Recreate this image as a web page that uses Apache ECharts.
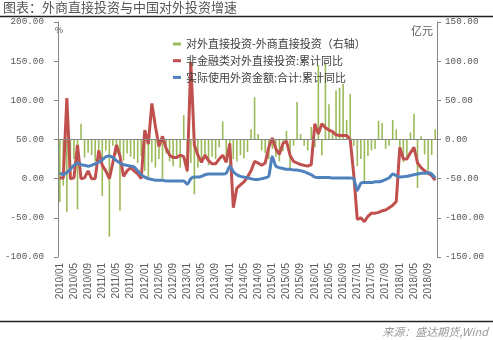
<!DOCTYPE html>
<html>
<head>
<meta charset="utf-8">
<script src="https://cdn.jsdelivr.net/npm/echarts@6/dist/echarts.min.js"></script>
<style>
html,body{margin:0;padding:0;background:#fff;}
#c{width:493px;height:340px;}
</style>
</head>
<body>
<div id="c"></div>
<script>
// ---- data ----
const startYear = 2010, monthCount = 107; // 2010/01 .. 2018/11
const categories = [];
for (let k = 0; k < monthCount; k++) {
  const y = startYear + Math.floor(k / 12), m = (k % 12) + 1;
  categories.push(y + '/' + (m < 10 ? '0' + m : m));
}
const seriesNames = ['对外直接投资-外商直接投资（右轴）', '非金融类对外直接投资:累计同比', '实际使用外资金额:合计:累计同比'];
// 对外直接投资-外商直接投资 (亿元, right axis)
const netInvest = [
  -80,-59,-93,-51,-25,-89,20,-23,-17,-20,
  -28,-22,-72,-14,-124,-8,-19,-91,-27,-18,
  -22,-25,-30,-21,-40,-52,-29,-36,-25,-50,
  -18,-28,-34,-22,-36,31,-42,-30,-70,-36,
  -27,-25,-33,-22,-25,-10,23,-22,-38,-25,
  -28,-20,-24,-16,13,54,7,-14,-17,-25,
  -12,-22,-28,-15,11,-40,-8,48,7,-8,
  -14,16,-10,95,-20,98,45,12,63,66,
  71,25,58,-8,-34,-25,-55,-21,-14,-12,
  24,21,-12,-8,25,13,-12,-29,-22,9,
  33,-62,4,-19,-40,-20,13
];
// 非金融类对外直接投资:累计同比 (%)
const odiYoY = [
  1,1,103,0,1,43,0,1,10,0,
  0,36,17,10,0,21,43,29,3,10,
  14,10,6,0,62,44,96,67,41,54,
  39,30,27,27,30,28,10,149,43,30,
  21,30,23,19,19,25,30,21,45,-37,
  -12,-8,-4,2,10,22,20,17,20,40,
  52,38,31,45,48,30,22,20,18,17,
  16,18,70,57,70,65,62,60,56,55,
  55,55,50,5,-52,-50,-55,-48,-44,-44,
  -43,-41,-40,-37,-34,-29,40,25,25,33,
  40,20,14,10,7,4,-2
];
// 实际使用外资金额:合计:累计同比 (%)
const fdiYoY = [
  7,5,8,12,17,20,18,17,16,17,
  19,21,24,28,29,27,23,20,18,17,
  16,15,10,5,2,0,-1,-2,-2,-2,
  -3,-3,-3,-3,-3,-3,-7,0,2,2,
  3,5,6,6,6,6,6,7,16,9,
  5,3,2,1,0,-1,-1,0,1,3,
  28,16,14,13,12,12,11,11,10,9,
  7,5,2,1.5,1.5,1.5,1.5,1,1,1,
  1,1,1,0,-15,-6,-5,-5,-5,-4,
  -4,-3,-1,1,6,4,2,2.5,3,4,
  5,6,7,7,7.5,6,1
];
const leftTicks = {min: -100, max: 200, interval: 50};
const rightTicks = {min: -150, max: 150, interval: 50};

// ---- chart ----
const chart = echarts.init(document.getElementById('c'), null, {renderer: 'canvas'});
const axisGray = '#868686', labelGray = '#595959';
const option = {
  animation: false,
  backgroundColor: '#fff',
  grid: {left: 58, right: 56, top: 22, bottom: 83},
  legend: {
    orient: 'vertical', left: 168, top: 33,
    itemWidth: 8, itemHeight: 3, itemGap: 4.7,
    icon: 'rect',
    textStyle: {fontSize: 11, color: '#404040', fontFamily: 'Noto Sans CJK SC', lineHeight: 12},
    data: seriesNames
  },
  xAxis: {
    type: 'category', data: categories, boundaryGap: true,
    axisLine: {show: false}, axisTick: {show: false},
    axisLabel: {interval: 3, rotate: 90, fontSize: 10, color: labelGray, margin: 6, fontFamily: 'Liberation Sans'}
  },
  yAxis: [
    {
      type: 'value', position: 'left', min: leftTicks.min, max: leftTicks.max, interval: leftTicks.interval,
      axisLine: {show: true, lineStyle: {color: axisGray, width: 1}},
      axisTick: {show: true, length: 4, lineStyle: {color: axisGray}},
      splitLine: {show: false},
      axisLabel: {formatter: v => v.toFixed(2), fontFamily: 'Liberation Mono', fontSize: 9.3, color: labelGray, margin: 14}
    },
    {
      type: 'value', position: 'right', min: rightTicks.min, max: rightTicks.max, interval: rightTicks.interval,
      axisLine: {show: true, lineStyle: {color: axisGray, width: 1}},
      axisTick: {show: true, length: 4, lineStyle: {color: axisGray}},
      splitLine: {show: false},
      axisLabel: {formatter: v => v.toFixed(2), fontFamily: 'Liberation Mono', fontSize: 9.3, color: labelGray, margin: 8}
    }
  ],
  series: [
    {
      name: seriesNames[0], type: 'bar', yAxisIndex: 1, data: netInvest,
      barWidth: 1.6, itemStyle: {color: '#9bbb59'},
      markLine: {
        silent: true, symbol: ['none', 'none'], label: {show: false},
        lineStyle: {color: axisGray, width: 1, type: 'solid'},
        data: [{yAxis: 0}]
      }
    },
    {
      name: seriesNames[1], type: 'line', yAxisIndex: 0, data: odiYoY,
      symbol: 'none', lineStyle: {color: '#c0504d', width: 3}, itemStyle: {color: '#c0504d'}
    },
    {
      name: seriesNames[2], type: 'line', yAxisIndex: 0, data: fdiYoY,
      symbol: 'none', smooth: 0.2, lineStyle: {color: '#4f81bd', width: 3}, itemStyle: {color: '#4f81bd'}
    }
  ],
  graphic: [
    {type: 'text', left: 3, top: 1, style: {text: '图表：外商直接投资与中国对外投资增速', fontSize: 13, fill: '#555', fontFamily: 'Noto Sans CJK SC'}},
    {type: 'line', shape: {x1: 0, y1: 16.5, x2: 493, y2: 16.5}, style: {stroke: '#222', lineWidth: 1.4}},
    {type: 'text', left: 55, top: 26, style: {text: '%', fontSize: 9, fill: labelGray, fontFamily: 'Liberation Sans'}},
    {type: 'text', right: 60, top: 25, style: {text: '亿元', fontSize: 11, fill: labelGray, fontFamily: 'Noto Sans CJK SC'}},
    {type: 'line', shape: {x1: 0, y1: 321.5, x2: 493, y2: 321.5}, style: {stroke: '#222', lineWidth: 1.4}},
    {type: 'text', right: 5, top: 326, style: {text: '来源：盛达期货,Wind', fontSize: 11, fontStyle: 'italic', fill: '#999', fontFamily: 'Noto Sans CJK SC'}}
  ]
};
chart.setOption(option);
</script>
</body>
</html>
